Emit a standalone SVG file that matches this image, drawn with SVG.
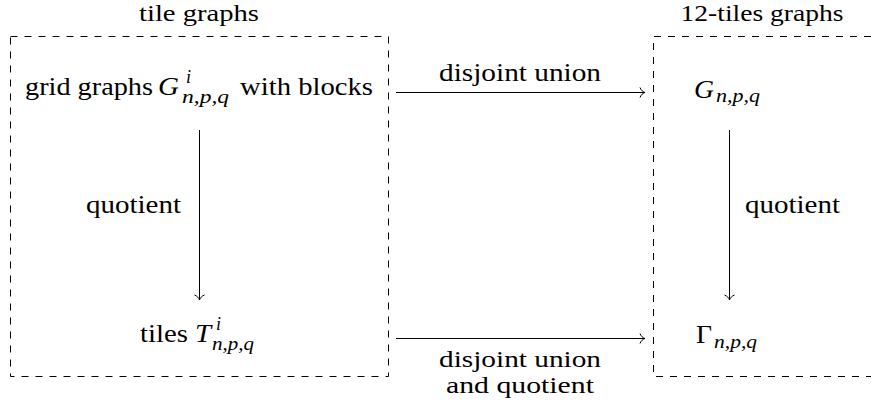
<svg xmlns="http://www.w3.org/2000/svg" width="871" height="402" viewBox="0 0 871 402">
<defs>
<style>
text{font-family:"Liberation Serif","Times New Roman",serif;fill:#000}
.m{font-size:26px}
.t{font-size:24px}
.l{font-size:23px}
.s{font-size:18px;font-style:italic}
.i{font-style:italic}
.box{fill:none;stroke:#000;stroke-width:1;stroke-dasharray:7 7}
.arr{fill:none;stroke:#000;stroke-width:1;marker-end:url(#to)}
</style>
<marker id="to" markerUnits="userSpaceOnUse" viewBox="-7 -7 9 14" refX="0" refY="0" markerWidth="9" markerHeight="14" orient="auto">
<path d="M-5,-5 C-4,-2.2 -2,-0.7 0,0 C-2,0.7 -4,2.2 -5,5" fill="none" stroke="#000" stroke-width="1"/>
</marker>
</defs>
<rect width="871" height="402" fill="#fff"/>
<g id="tile-graphs">
<rect class="box" x="10.5" y="36.5" width="378" height="340"/>
<text class="t" x="199" y="21" text-anchor="middle" textLength="120" lengthAdjust="spacingAndGlyphs">tile graphs</text>
</g>
<g id="twelve-tiles-graphs">
<path class="box" d="M871,36.5 H653.5 V376.5 H871"/>
<text class="t" x="762" y="21" text-anchor="middle" textLength="163" lengthAdjust="spacingAndGlyphs">12-tiles graphs</text>
</g>
<g id="grid-graphs">
<text class="m" x="25" y="95" textLength="128" lengthAdjust="spacingAndGlyphs">grid graphs</text>
<text class="m i" x="158" y="95" textLength="21" lengthAdjust="spacingAndGlyphs">G</text>
<text class="s" x="186" y="82.5">i</text>
<text class="s" x="182" y="102.5" textLength="47" lengthAdjust="spacingAndGlyphs">n,p,q</text>
<text class="m" x="240" y="95" textLength="133" lengthAdjust="spacingAndGlyphs">with blocks</text>
</g>
<g id="G-npq">
<text class="m i" x="694" y="97.5" textLength="20" lengthAdjust="spacingAndGlyphs">G</text>
<text class="s" x="716" y="102" textLength="44" lengthAdjust="spacingAndGlyphs">n,p,q</text>
</g>
<g id="tiles">
<text class="m" x="140" y="342" textLength="48" lengthAdjust="spacingAndGlyphs">tiles</text>
<text class="m i" x="195" y="342" textLength="16" lengthAdjust="spacingAndGlyphs">T</text>
<text class="s" x="216" y="329.5">i</text>
<text class="s" x="212" y="349.5" textLength="42" lengthAdjust="spacingAndGlyphs">n,p,q</text>
</g>
<g id="Gamma-npq">
<text class="m" x="696" y="343" textLength="16" lengthAdjust="spacingAndGlyphs">Γ</text>
<text class="s" x="714" y="347.5" textLength="43" lengthAdjust="spacingAndGlyphs">n,p,q</text>
</g>
<g id="connectors">
<line class="arr" x1="396" y1="92.5" x2="645" y2="92.5"/>
<text class="m" x="520" y="81" text-anchor="middle" textLength="162" lengthAdjust="spacingAndGlyphs">disjoint union</text>
<line class="arr" x1="396" y1="338.5" x2="645" y2="338.5"/>
<text class="l" x="520" y="366.5" text-anchor="middle" textLength="162" lengthAdjust="spacingAndGlyphs">disjoint union</text>
<text class="l" x="520" y="393" text-anchor="middle" textLength="148" lengthAdjust="spacingAndGlyphs">and quotient</text>
<line class="arr" x1="199.5" y1="130" x2="199.5" y2="300"/>
<text class="m" x="181" y="213" text-anchor="end" textLength="95" lengthAdjust="spacingAndGlyphs">quotient</text>
<line class="arr" x1="729.5" y1="130" x2="729.5" y2="300"/>
<text class="m" x="745" y="213" textLength="95" lengthAdjust="spacingAndGlyphs">quotient</text>
</g>
</svg>
